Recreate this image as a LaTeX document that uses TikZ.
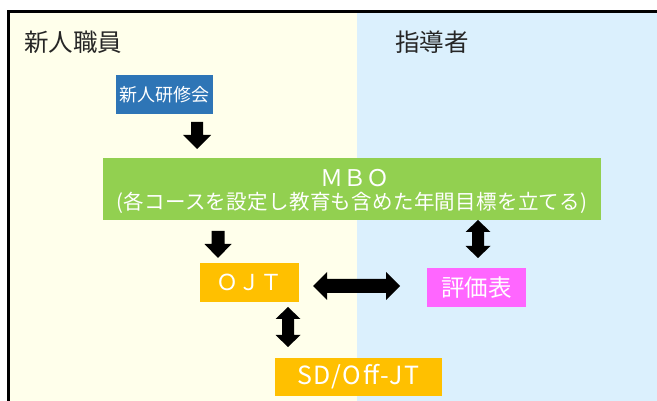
\documentclass[tikz,border=0pt]{standalone}
\usepackage{fontspec}
\setmainfont{Noto Sans CJK JP}
\definecolor{bgY}{HTML}{FFFFEB}
\definecolor{bgB}{HTML}{DBF0FD}
\definecolor{cBlue}{HTML}{2E75B6}
\definecolor{cGreen}{HTML}{92D050}
\definecolor{cOrange}{HTML}{FFC000}
\definecolor{cPink}{HTML}{FF66FF}
\definecolor{cText}{HTML}{262626}
\tikzset{
  box/.style={rectangle, inner sep=0pt, text=white},
  lane/.style={inner sep=0pt, text=cText, font=\fontsize{24.5}{24.5}\selectfont},
  blk/.style={fill=black}
}
\begin{document}
\begin{tikzpicture}[x=1pt,y=-1pt]
\useasboundingbox (0,0) rectangle (657,401);
\fill[white] (0,0) rectangle (657,401);
\fill[bgY] (10,13) rectangle (357,401);
\fill[bgB] (357,13) rectangle (657,401);
\draw[line width=3pt] (8.5,401) -- (8.5,11.5) -- (657,11.5);

\node[lane] (shin) at (73,42) {新人職員};
\node[lane] (shido) at (432,42) {指導者};

\node[box, fill=cBlue, minimum width=97pt, minimum height=39pt, font=\fontsize{18}{18}\selectfont] (ken) at (164.5,94.5) {新人研修会};

\node[box, fill=cGreen, minimum width=498pt, minimum height=62pt] (mbo) at (352,189) {};
\node[text=white, inner sep=0pt, font=\fontsize{23}{23}\selectfont] (mbot) at (355,178) {ＭＢＯ};
\node[text=white, inner sep=0pt, font=\fontsize{20.5}{20.5}\selectfont\addfontfeature{LetterSpace=1.5}] (mbos) at (352,203) {(各コースを設定し教育も含めた年間目標を立てる)};

\node[box, fill=cOrange, minimum width=99pt, minimum height=39pt, font=\fontsize{22}{22}\selectfont] (ojt) at (249.5,282.5) {ＯＪＴ};
\node[box, fill=cPink, minimum width=99pt, minimum height=39pt, font=\fontsize{23.5}{23.5}\selectfont] (hyoka) at (476.5,287.5) {評価表};
\node[box, fill=cOrange, minimum width=167pt, minimum height=38pt, font=\fontsize{25}{25}\selectfont\addfontfeature{LetterSpace=6}] (sd) at (358.5,377) {SD/Off-JT};

% block arrows
\fill[blk, shift={(197,122)}] (-6,0) -- (6,0) -- (6,13) -- (14,13) -- (0,27) -- (-14,13) -- (-6,13) -- cycle;
\fill[blk, shift={(218,231)}] (-6.5,0) -- (6.5,0) -- (6.5,13) -- (13.5,13) -- (0,27) -- (-13.5,13) -- (-6.5,13) -- cycle;
\fill[blk, shift={(313,286)}] (0,0) -- (14,-14) -- (14,-7) -- (73,-7) -- (73,-14) -- (87,0) -- (73,14) -- (73,7) -- (14,7) -- (14,14) -- cycle;
\fill[blk, shift={(478,220)}] (0,0) -- (12.5,12) -- (6,12) -- (6,26) -- (12.5,26) -- (0,38) -- (-12.5,26) -- (-6,26) -- (-6,12) -- (-12.5,12) -- cycle;
\fill[blk, shift={(288,307)}] (0,0) -- (12.5,12) -- (6,12) -- (6,28) -- (12.5,28) -- (0,40) -- (-12.5,28) -- (-6,28) -- (-6,12) -- (-12.5,12) -- cycle;
\end{tikzpicture}
\end{document}
